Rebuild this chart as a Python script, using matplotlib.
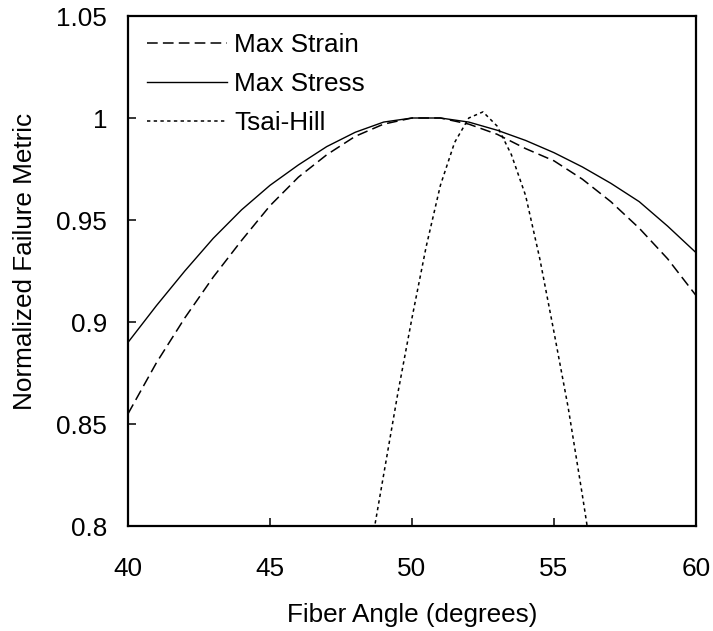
import matplotlib

matplotlib.use("Agg")
import matplotlib.pyplot as plt
from matplotlib.ticker import FuncFormatter
from matplotlib.transforms import Bbox, IdentityTransform, TransformedBbox

# fiber angle (degrees) for the two strength-based criteria
angles = [40, 41, 42, 43, 44, 45, 46, 47, 48, 49, 50,
          51, 52, 53, 54, 55, 56, 57, 58, 59, 60]
max_strain = [0.855, 0.880, 0.902, 0.922, 0.940, 0.957, 0.971, 0.982, 0.991, 0.997, 1.000,
              1.000, 0.997, 0.992, 0.985, 0.979, 0.970, 0.959, 0.946, 0.931, 0.913]
max_stress = [0.890, 0.908, 0.925, 0.941, 0.955, 0.967, 0.977, 0.986, 0.993, 0.998, 1.000,
              1.000, 0.998, 0.994, 0.989, 0.983, 0.976, 0.968, 0.959, 0.947, 0.934]

# Tsai-Hill is sampled more finely around its peak
tsai_angles = [48.5, 49.0, 49.5, 50.0, 50.5, 51.0, 51.5, 52.0, 52.5,
               53.0, 53.5, 54.0, 54.5, 55.0, 55.5, 56.0, 56.5]
tsai_hill = [0.785, 0.825, 0.865, 0.902, 0.937, 0.967, 0.988, 1.000, 1.003,
             0.996, 0.982, 0.962, 0.931, 0.895, 0.858, 0.815, 0.770]

x_ticks = [40, 45, 50, 55, 60]
y_ticks = [0.8, 0.85, 0.9, 0.95, 1.0, 1.05]

FONT = 18.8
W, H = 713, 631

plt.rcParams["font.family"] = ["Liberation Sans", "DejaVu Sans"]

fig = plt.figure(figsize=(W / 100, H / 100), dpi=100)
ax = fig.add_axes([128 / W, (H - 526) / H, (696 - 128) / W, (526 - 16) / H])

ax.plot(angles, max_strain, color="black", lw=1.1, dashes=(7.0, 3.4),
        label="Max Strain")
ax.plot(angles, max_stress, color="black", lw=1.0, label="Max Stress")
ax.plot(tsai_angles, tsai_hill, color="black", lw=1.1, dashes=(2.2, 2.2),
        label="Tsai-Hill")

ax.set_xlim(40, 60)
ax.set_ylim(0.8, 1.05)
ax.set_xticks(x_ticks)
ax.set_yticks(y_ticks)
ax.yaxis.set_major_formatter(FuncFormatter(lambda v, _: f"{v:g}"))

for spine in ax.spines.values():
    spine.set_linewidth(1.6)
ax.tick_params(direction="in", length=6, width=1.1, labelsize=FONT,
               top=False, right=False)
ax.tick_params(axis="y", pad=15)
ax.tick_params(axis="x", pad=22)

ax.set_xlabel("Fiber Angle (degrees)", fontsize=FONT, labelpad=16)

# y label is cut off at the top in the original
ylab = fig.text(25 / W, (H - 410) / H, "Normalized Failure Metric",
                rotation=90, ha="center", va="bottom", fontsize=FONT)
ylab.set_clip_box(TransformedBbox(Bbox([[0, 0], [W, H - 114]]), IdentityTransform()))
ylab.set_clip_on(True)

ax.legend(loc="upper left", bbox_to_anchor=(19 / 568, 1 - 17 / 510),
          frameon=False, fontsize=FONT, borderpad=0, borderaxespad=0,
          handlelength=3.05, handletextpad=0.3, labelspacing=0.58)

fig.savefig("out.png", dpi=100)
